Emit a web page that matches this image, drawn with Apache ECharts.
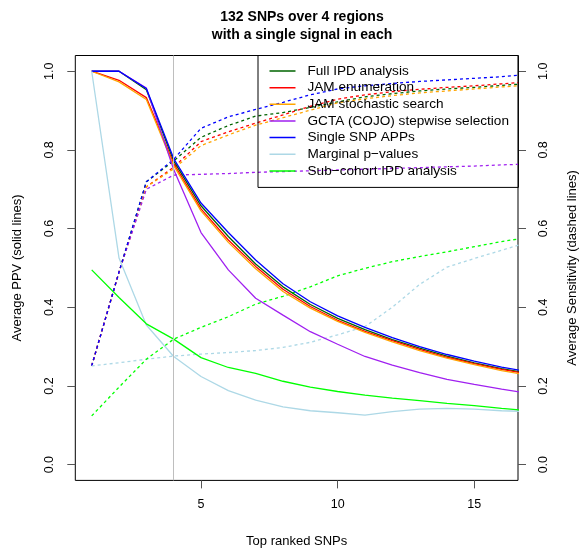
<!DOCTYPE html>
<html>
<head>
<meta charset="utf-8">
<script src="https://cdn.jsdelivr.net/npm/echarts@6/dist/echarts.min.js"></script>
<style>
  html, body { margin: 0; padding: 0; background: #fff; }
  #chart { width: 580px; height: 548px; }
</style>
</head>
<body>
<div id="chart"></div>
<script>
// top ranked SNPs (the last point sits past the axis end and gets clipped, like in R)
var snps = [1, 2, 3, 4, 5, 6, 7, 8, 9, 10, 11, 12, 13, 14, 15, 16, 17];

var methods = ['Full IPD analysis', 'JAM enumeration', 'JAM stochastic search',
  'GCTA (COJO) stepwise selection', 'Single SNP APPs', 'Marginal p\u2212values', 'Sub\u2212cohort IPD analysis'];
var colors = ['#006400', '#FF0000', '#FFA500', '#A020F0', '#0000FF', '#ADD8E6', '#00FF00'];

// average PPV (solid lines)
var ppvFullIpd = [1.0, 1.0, 0.953, 0.772, 0.658, 0.580, 0.510, 0.452, 0.407, 0.372, 0.343, 0.318, 0.296, 0.276, 0.259, 0.244, 0.232];
var ppvJamEnum = [1.0, 0.977, 0.933, 0.765, 0.650, 0.571, 0.504, 0.446, 0.402, 0.367, 0.339, 0.315, 0.293, 0.273, 0.257, 0.242, 0.230];
var ppvJamStoch = [1.0, 0.973, 0.928, 0.760, 0.645, 0.565, 0.498, 0.440, 0.398, 0.364, 0.336, 0.312, 0.290, 0.271, 0.254, 0.239, 0.227];
var ppvGcta = [1.0, 1.0, 0.957, 0.750, 0.590, 0.495, 0.423, 0.380, 0.338, 0.306, 0.275, 0.253, 0.234, 0.217, 0.204, 0.192, 0.181];
var ppvSingleSnp = [1.0, 1.0, 0.956, 0.778, 0.665, 0.590, 0.520, 0.460, 0.414, 0.378, 0.349, 0.323, 0.300, 0.280, 0.263, 0.248, 0.236];
var ppvMarginal = [1.0, 0.525, 0.355, 0.275, 0.224, 0.188, 0.164, 0.147, 0.137, 0.132, 0.126, 0.135, 0.141, 0.143, 0.141, 0.137, 0.135];
var ppvSubCohort = [0.495, 0.425, 0.358, 0.319, 0.272, 0.247, 0.232, 0.212, 0.197, 0.186, 0.177, 0.169, 0.163, 0.156, 0.150, 0.143, 0.137];

// average sensitivity (dashed lines)
var sensFullIpd = [0.251, 0.49, 0.719, 0.772, 0.832, 0.862, 0.886, 0.895, 0.908, 0.922, 0.935, 0.943, 0.950, 0.955, 0.959, 0.964, 0.969];
var sensJamEnum = [0.251, 0.49, 0.706, 0.756, 0.821, 0.846, 0.868, 0.889, 0.911, 0.929, 0.940, 0.948, 0.954, 0.959, 0.963, 0.968, 0.973];
var sensJamStoch = [0.251, 0.49, 0.706, 0.752, 0.811, 0.838, 0.863, 0.882, 0.901, 0.920, 0.930, 0.938, 0.945, 0.950, 0.955, 0.960, 0.965];
var sensGcta = [0.251, 0.49, 0.700, 0.736, 0.738, 0.740, 0.743, 0.745, 0.747, 0.749, 0.751, 0.753, 0.755, 0.757, 0.759, 0.762, 0.764];
var sensSingleSnp = [0.251, 0.49, 0.719, 0.776, 0.855, 0.884, 0.903, 0.921, 0.940, 0.955, 0.963, 0.969, 0.974, 0.978, 0.982, 0.986, 0.992];
var sensMarginal = [0.251, 0.259, 0.268, 0.276, 0.281, 0.285, 0.290, 0.298, 0.311, 0.330, 0.351, 0.400, 0.458, 0.502, 0.524, 0.545, 0.566];
var sensSubCohort = [0.124, 0.197, 0.268, 0.319, 0.349, 0.376, 0.408, 0.428, 0.452, 0.480, 0.499, 0.516, 0.529, 0.541, 0.554, 0.567, 0.578];

var xTicks = [5, 10, 15];
var yTicks = [0, 0.2, 0.4, 0.6, 0.8, 1.0];
var cutoff = 4;

var ppvAll = [ppvFullIpd, ppvJamEnum, ppvJamStoch, ppvGcta, ppvSingleSnp, ppvMarginal, ppvSubCohort];
var sensAll = [sensFullIpd, sensJamEnum, sensJamStoch, sensGcta, sensSingleSnp, sensMarginal, sensSubCohort];

var font = 'Liberation Sans, Arial, Helvetica, sans-serif';

function pairs(vals) {
  return snps.map(function (x, i) { return [x, vals[i]]; });
}

var series = [];
sensAll.forEach(function (vals, i) {
  series.push({
    name: methods[i], type: 'line', yAxisIndex: 1, data: pairs(vals),
    symbol: 'none', color: colors[i],
    lineStyle: { width: 1.3, type: [3, 3], color: colors[i] }
  });
});
ppvAll.forEach(function (vals, i) {
  series.push({
    name: methods[i], type: 'line', yAxisIndex: 0, data: pairs(vals),
    symbol: 'none', color: colors[i],
    lineStyle: { width: 1.3, color: colors[i] }
  });
});
// grey line at 4 SNPs (the true number of signals)
series[0].markLine = {
  silent: true, symbol: 'none', label: { show: false },
  lineStyle: { color: '#BEBEBE', width: 1, type: 'solid' },
  data: [{ xAxis: cutoff }]
};

function yAxisOpt(name, pos, gap) {
  return {
    type: 'value', position: pos, min: -0.04, max: 1.04,
    name: name, nameLocation: 'middle', nameGap: gap,
    nameTextStyle: { fontFamily: font, fontSize: 13, color: '#000' },
    axisLine: { show: false, onZero: false },
    splitLine: { show: false },
    axisTick: { show: true, length: 8, customValues: yTicks, lineStyle: { color: '#555' } },
    axisLabel: {
      customValues: yTicks, rotate: 90, margin: 19,
      fontFamily: font, fontSize: 12.5, color: '#000',
      formatter: function (v) { return v.toFixed(1); }
    }
  };
}

// legend key: a 26px line followed by empty space, so the text sits further right
var keyIcon = 'path://M0,0H26V1.5H0Z M32.98,0H33V1.5H32.98Z';

var chart = echarts.init(document.getElementById('chart'), null, { renderer: 'canvas' });
chart.setOption({
  animation: false,
  backgroundColor: '#fff',
  title: {
    text: '132 SNPs over 4 regions\nwith a single signal in each',
    left: 297, top: 3, textAlign: 'center',
    textStyle: { fontFamily: font, fontSize: 14, fontWeight: 'bold', color: '#000', lineHeight: 18 }
  },
  legend: {
    orient: 'vertical', left: 258, top: 55.5,
    padding: [8, 9.5, 9, 11.5],
    itemWidth: 33, itemHeight: 1.5, itemGap: 1.65,
    icon: keyIcon,
    borderColor: '#000', borderWidth: 1,
    selectedMode: false,
    data: methods,
    textStyle: { fontFamily: font, fontSize: 13.6, color: '#000', lineHeight: 15 }
  },
  grid: {
    left: 75.3, right: 62, top: 55.5, bottom: 67.6,
    show: true, borderColor: '#000', borderWidth: 1,
    containLabel: false, outerBoundsMode: 'none'
  },
  xAxis: {
    type: 'value', min: 0.4, max: 16.6,
    name: 'Top ranked SNPs', nameLocation: 'middle', nameGap: 55,
    nameTextStyle: { fontFamily: font, fontSize: 13, color: '#000' },
    axisLine: { show: false, onZero: false },
    splitLine: { show: false },
    axisTick: { show: true, length: 8, customValues: xTicks, lineStyle: { color: '#555' } },
    axisLabel: { customValues: xTicks, margin: 18, fontFamily: font, fontSize: 12.5, color: '#000' }
  },
  yAxis: [
    yAxisOpt('Average PPV (solid lines)', 'left', 51),
    yAxisOpt('Average Sensitivity (dashed lines)', 'right', 48)
  ],
  series: series
});
</script>
</body>
</html>
